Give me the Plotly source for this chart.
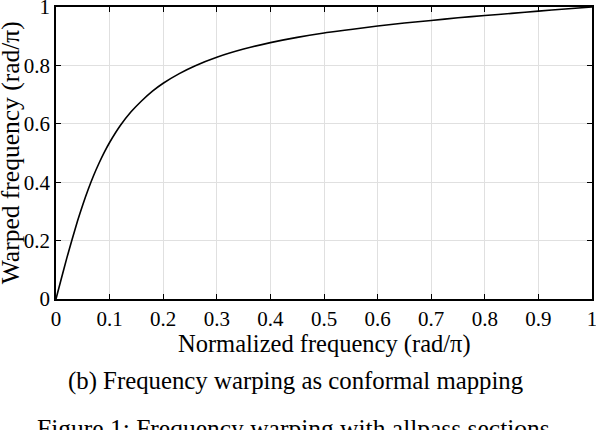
import plotly.graph_objects as go

# Data
norm_freq = [0, 0.01, 0.02, 0.03, 0.04, 0.05, 0.06, 0.07, 0.08, 0.09, 0.10, 0.12, 0.14,
             0.16, 0.18, 0.20, 0.23, 0.26, 0.30, 0.35, 0.40, 0.45, 0.50, 0.55, 0.60,
             0.65, 0.70, 0.75, 0.80, 0.85, 0.90, 0.95, 1.0]
warped_freq = [0, 0.070, 0.139, 0.204, 0.266, 0.323, 0.375, 0.422, 0.464, 0.502, 0.536,
               0.594, 0.641, 0.679, 0.712, 0.739, 0.772, 0.799, 0.828, 0.856, 0.878,
               0.896, 0.911, 0.923, 0.935, 0.945, 0.954, 0.963, 0.971, 0.978, 0.986,
               0.993, 1.0]

x_ticks = [0, 0.1, 0.2, 0.3, 0.4, 0.5, 0.6, 0.7, 0.8, 0.9, 1]
x_tick_text = ["0", "0.1", "0.2", "0.3", "0.4", "0.5", "0.6", "0.7", "0.8", "0.9", "1"]
y_ticks = [0, 0.2, 0.4, 0.6, 0.8, 1]
y_tick_text = ["0", "0.2", "0.4", "0.6", "0.8", "1"]

FONT = "Liberation Serif, Times New Roman, serif"

fig = go.Figure()
fig.add_trace(go.Scatter(x=norm_freq, y=warped_freq, mode="lines",
                         line=dict(color="black", width=1.6, shape="spline", smoothing=0.6),
                         showlegend=False, hoverinfo="skip"))

axis_common = dict(showgrid=True, gridcolor="#e0e0e0", gridwidth=1.2,
                   showline=True, linecolor="black", linewidth=1.5, mirror="ticks",
                   ticks="inside", ticklen=5, tickwidth=1.2, tickcolor="black",
                   zeroline=False, automargin=False, ticklabeloverflow="allow",
                   tickfont=dict(family=FONT, size=21, color="black"))

fig.update_xaxes(range=[0, 1], tickvals=x_ticks, ticktext=x_tick_text, **axis_common)
fig.update_yaxes(range=[0, 1], tickvals=y_ticks, ticktext=y_tick_text, **axis_common)

fig.update_layout(
    width=596, height=430,
    margin=dict(l=56, r=4, t=7, b=131, autoexpand=False),
    paper_bgcolor="white", plot_bgcolor="white",
    font=dict(family=FONT, color="black"),
    annotations=[
        dict(text="Normalized frequency (rad/\u03c0)", xref="paper", yref="paper",
             x=(324.5 - 56) / 536, y=-0.155, xanchor="center", yanchor="middle",
             showarrow=False, font=dict(family=FONT, size=24.5)),
        dict(text="Warped frequency (rad/\u03c0)", xref="paper", yref="paper",
             x=(10 - 56) / 536, y=(299.3 - 153.5) / 292, xanchor="center",
             yanchor="middle", textangle=-90, showarrow=False,
             font=dict(family=FONT, size=25.5)),
        dict(text="(b) Frequency warping as conformal mapping", xref="paper", yref="paper",
             x=(295.5 - 56) / 536, y=-0.281, xanchor="center", yanchor="middle",
             showarrow=False, font=dict(family=FONT, size=24.8)),
        dict(text="Figure 1: Frequency warping with allpass sections", xref="paper",
             yref="paper", x=(293 - 56) / 536, y=-0.443, xanchor="center",
             yanchor="middle", showarrow=False, font=dict(family=FONT, size=25.5)),
    ],
)

fig.write_html("out.html", config={"displayModeBar": False},
               post_script="document.body.style.margin='0';")
